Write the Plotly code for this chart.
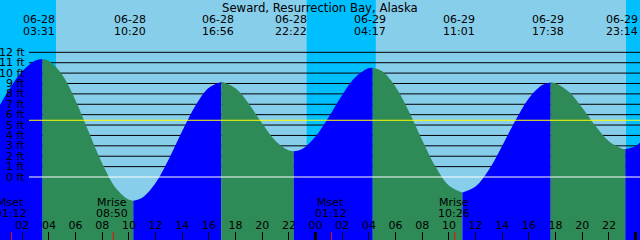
import pandas as pd
import plotly.graph_objects as go

# ---------------- data ----------------
title_text = "Seward, Resurrection Bay, Alaska"
base_day = "2024-06-28"
view_start = "2024-06-28 00:20"
view_end = "2024-06-30 00:20"

# tide height (ft) at each whole hour from 06-28 00:00 to 06-30 01:00
hourly_heights = [6.20, 8.37, 10.18, 11.22, 11.19, 9.83, 7.36, 4.30, 1.30, -1.03,
                  -2.20, -1.99, -0.57, 1.73, 4.42, 6.89, 8.59, 9.14, 8.53, 7.03,
                  5.14, 3.46, 2.55, 2.69, 3.89, 5.80, 7.90, 9.62, 10.48, 10.18,
                  8.69, 6.31, 3.54, 0.98, -0.82, -1.49, -0.92, 0.69, 3.00, 5.47,
                  7.59, 8.86, 9.03, 8.20, 6.67, 4.90, 3.44, 2.73, 2.99, 4.14]

extreme_times = ["2024-06-28 03:31", "2024-06-28 10:20", "2024-06-28 16:56", "2024-06-28 22:22",
                 "2024-06-29 04:17", "2024-06-29 11:01", "2024-06-29 17:38", "2024-06-29 23:14"]
extreme_heights = [11.36, -2.28, 9.14, 2.47, 10.52, -1.49, 9.10, 2.70]
extreme_kinds = ["high", "low", "high", "low", "high", "low", "high", "low"]

night_starts = ["2024-06-28 00:00", "2024-06-28 23:20", "2024-06-29 23:17"]
night_ends = ["2024-06-28 04:32", "2024-06-29 04:31", "2024-06-30 02:00"]

moon_events = ["Mset", "Mrise", "Mset", "Mrise"]
moon_times = ["2024-06-28 01:12", "2024-06-28 08:50", "2024-06-29 01:12", "2024-06-29 10:26"]

ft_levels = list(range(0, 13))
mean_level = 5.46
midnights = ["2024-06-29 00:00", "2024-06-30 00:00"]

# ---------------- styling ----------------
W, H = 640, 240
Y_RANGE = [-6.063, 17.035]
DAY = "#87CEEB"
NIGHT = "#00BFFF"
RISE = "#0000FF"
FALL = "#2E8B57"
FONT = "DejaVu Sans"
FS = 11
LINE_X0 = 29 / W


def py(px):
    """pixel row from top -> paper y"""
    return 1 - px / H


hour_times = [pd.Timestamp(base_day) + pd.Timedelta(hours=h) for h in range(len(hourly_heights))]
ext_t = [pd.Timestamp(t) for t in extreme_times]
pts = sorted(list(zip(hour_times, hourly_heights)) + list(zip(ext_t, extreme_heights)))

fig = go.Figure()
bounds = [pd.Timestamp.min] + ext_t + [pd.Timestamp.max]
for i in range(len(bounds) - 1):
    lo, hi = bounds[i], bounds[i + 1]
    seg = [p for p in pts if lo <= p[0] <= hi]
    if i < len(extreme_kinds):
        color = RISE if extreme_kinds[i] == "high" else FALL
    else:
        color = RISE if extreme_kinds[-1] == "low" else FALL
    xs = [p[0] for p in seg]
    ys = [p[1] for p in seg]
    fig.add_trace(go.Scatter(x=[xs[0], xs[-1]], y=[-8, -8], mode="lines",
                             line=dict(width=0, color=color), hoverinfo="skip", showlegend=False))
    fig.add_trace(go.Scatter(x=xs, y=ys, mode="lines", fill="tonexty", fillcolor=color,
                             line=dict(width=0, color=color, shape="spline"),
                             hoverinfo="skip", showlegend=False))

shapes = []
for s, e in zip(night_starts, night_ends):
    shapes.append(dict(type="rect", xref="x", yref="paper", x0=s, x1=e, y0=0, y1=1,
                       fillcolor=NIGHT, line=dict(width=0), layer="below"))
for v in ft_levels[1:]:
    shapes.append(dict(type="line", xref="paper", yref="y", x0=LINE_X0, x1=1, y0=v, y1=v,
                       line=dict(color="black", width=1), layer="below"))
shapes.append(dict(type="line", xref="paper", yref="y", x0=LINE_X0, x1=1, y0=0, y1=0,
                   line=dict(color="white", width=1), layer="above"))
shapes.append(dict(type="line", xref="paper", yref="y", x0=LINE_X0, x1=1, y0=mean_level, y1=mean_level,
                   line=dict(color="yellow", width=1), layer="above"))
for t in moon_times:
    shapes.append(dict(type="line", xref="x", yref="paper", x0=t, x1=t, y0=0, y1=8 / H,
                       line=dict(color="red", width=1), layer="above"))
for t in midnights:
    shapes.append(dict(type="line", xref="x", yref="paper", x0=t, x1=t, y0=0, y1=8 / H,
                       line=dict(color="black", width=3), layer="above"))

ann = []
font = dict(family=FONT, size=FS, color="black")
ann.append(dict(text=title_text, xref="paper", yref="paper", x=0.5, y=py(7.5),
                xanchor="center", yanchor="middle", showarrow=False,
                font=dict(family=FONT, size=11.7, color="black")))
for v in ft_levels:
    ann.append(dict(text=f"{v} ft", xref="paper", yref="y", x=27 / W, y=v,
                    xanchor="right", yanchor="middle", showarrow=False, font=font))
for t in ext_t:
    ann.append(dict(text=t.strftime("%m-%d"), xref="x", yref="paper", x=t, y=py(19.5),
                    xanchor="center", yanchor="middle", xshift=-3, showarrow=False, font=font))
    ann.append(dict(text=t.strftime("%H:%M"), xref="x", yref="paper", x=t, y=py(31.5),
                    xanchor="center", yanchor="middle", xshift=-3, showarrow=False, font=font))
for name, t in zip(moon_events, moon_times):
    ts = pd.Timestamp(t)
    ann.append(dict(text=name, xref="x", yref="paper", x=ts, y=py(202),
                    xanchor="center", yanchor="middle", xshift=-1, showarrow=False, font=font))
    ann.append(dict(text=ts.strftime("%H:%M"), xref="x", yref="paper", x=ts, y=py(213.5),
                    xanchor="center", yanchor="middle", xshift=-1, showarrow=False, font=font))

tick_vals = [pd.Timestamp(base_day) + pd.Timedelta(hours=h) for h in range(2, 49, 2)]

fig.update_layout(
    width=W, height=H, margin=dict(l=0, r=0, t=0, b=0, pad=0),
    paper_bgcolor=DAY, plot_bgcolor=DAY, showlegend=False,
    shapes=shapes, annotations=ann,
    xaxis=dict(type="date", range=[view_start, view_end], showgrid=False, zeroline=False,
               showline=False, tickvals=tick_vals, tickformat="%H", ticks="inside", ticklen=8,
               tickwidth=1, tickcolor="black", ticklabelposition="inside",
               tickfont=dict(family=FONT, size=FS, color="black"), fixedrange=True),
    yaxis=dict(range=Y_RANGE, visible=False, fixedrange=True),
)

fig.write_html("out.html")
